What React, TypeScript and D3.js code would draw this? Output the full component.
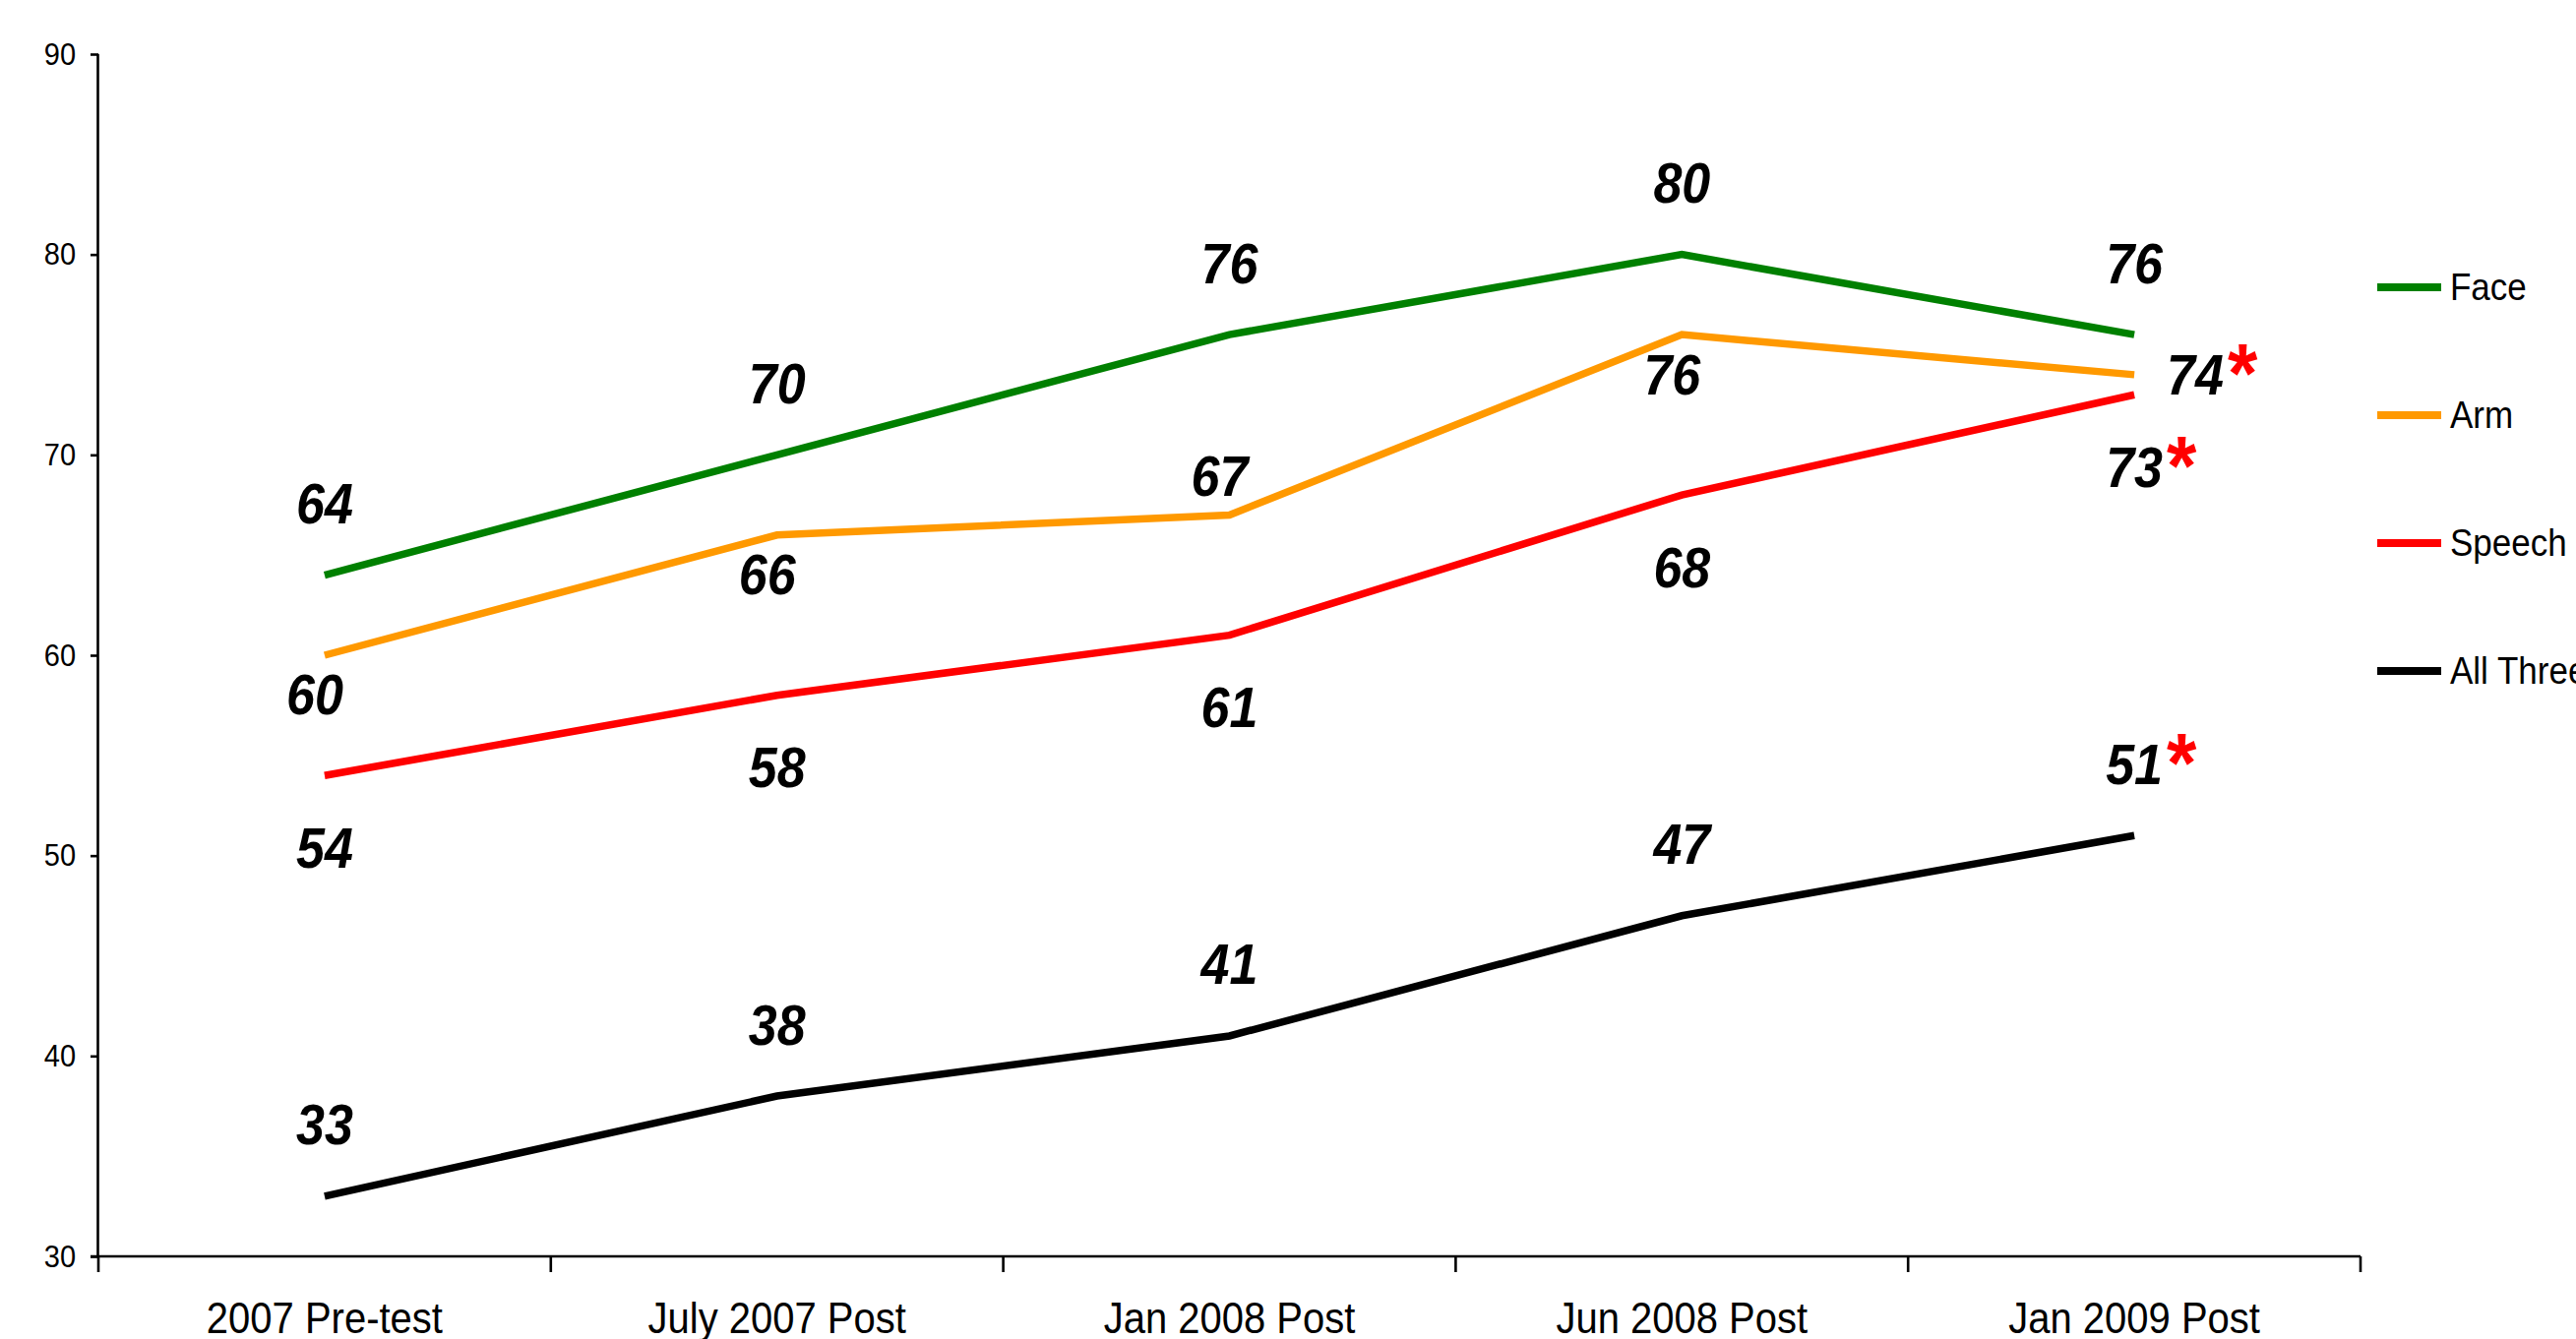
import { useEffect, useRef } from "react";
import * as d3 from "d3";

const categories = ["2007 Pre-test", "July 2007 Post", "Jan 2008 Post", "Jun 2008 Post", "Jan 2009 Post"];
const faceValues = [64, 70, 76, 80, 76];
const armValues = [60, 66, 67, 76, 74];
const speechValues = [54, 58, 61, 68, 73];
const allThreeValues = [33, 38, 41, 47, 51];
const yTicks = [30, 40, 50, 60, 70, 80, 90];

// where each data label sits relative to its point
const faceLabelPos = ["above", "above", "above", "above", "above"];
const armLabelPos = ["below", "below", "above", "below", "right"];
const speechLabelPos = ["below", "below", "below", "below", "below"];
const allThreeLabelPos = ["above", "above", "above", "above", "above"];

// red asterisk after the label
const faceStar = [false, false, false, false, false];
const armStar = [false, false, false, false, true];
const speechStar = [false, false, false, false, true];
const allThreeStar = [false, false, false, false, true];

const FONT = "'Liberation Sans', Arial, sans-serif";
const STRETCH = 1.1;

export default function App() {
  const svgRef = useRef<SVGSVGElement | null>(null);

  useEffect(() => {
    document.body.style.margin = "0";
    if (!svgRef.current) return;
    const W = 2618;
    const H = 1361;
    const svg = d3.select(svgRef.current);
    svg.selectAll("*").remove();

    const left = 100;
    const right = 2399;
    const top = 55;
    const bottom = 1277;

    const x = d3.scaleBand().domain(categories).range([left, right]).padding(0);
    const cx = (c: string) => (x(c) as number) + x.bandwidth() / 2;
    const y = d3.scaleLinear().domain([30, 90]).range([bottom, top]);

    const series = [
      { name: "Face", color: "#008000", values: faceValues, pos: faceLabelPos, star: faceStar, gap: 73, dx: 0 },
      { name: "Arm", color: "#FF9900", values: armValues, pos: armLabelPos, star: armStar, gap: 40, dx: -10 },
      { name: "Speech", color: "#FF0000", values: speechValues, pos: speechLabelPos, star: speechStar, gap: 73, dx: 0 },
      { name: "All Three", color: "#000000", values: allThreeValues, pos: allThreeLabelPos, star: allThreeStar, gap: 73, dx: 0 },
    ];

    // Y axis
    const yAxis = svg
      .append("g")
      .attr("transform", `translate(${left},0)`)
      .call(d3.axisLeft(y).tickValues(yTicks).tickSize(8).tickPadding(15).tickFormat(d3.format("d")));
    yAxis.select(".domain").attr("d", `M-0.5,${top}V${bottom}`).attr("stroke", "#000").attr("stroke-width", 2.6);
    yAxis.selectAll(".tick line").attr("stroke", "#000").attr("stroke-width", 2.6);
    yAxis
      .selectAll(".tick text")
      .attr("font-family", FONT)
      .attr("font-size", 29)
      .attr("fill", "#000")
      .attr("transform", `scale(1,${STRETCH})`);

    // X axis
    const xg = svg.append("g");
    xg.append("line")
      .attr("x1", left - 8)
      .attr("x2", right)
      .attr("y1", bottom)
      .attr("y2", bottom)
      .attr("stroke", "#000")
      .attr("stroke-width", 2.6);
    const bounds = [...categories.map((c) => x(c) as number), right];
    xg.selectAll("line.tk")
      .data(bounds)
      .join("line")
      .attr("class", "tk")
      .attr("x1", (d) => d)
      .attr("x2", (d) => d)
      .attr("y1", bottom)
      .attr("y2", bottom + 16)
      .attr("stroke", "#000")
      .attr("stroke-width", 2.6);
    xg.selectAll("text")
      .data(categories)
      .join("text")
      .attr("transform", (d) => `translate(${cx(d)},1355) scale(1,${STRETCH})`)
      .attr("text-anchor", "middle")
      .attr("font-family", FONT)
      .attr("font-size", 40)
      .attr("fill", "#000")
      .text((d) => d);

    // Lines
    const line = d3
      .line<number>()
      .x((_, i) => cx(categories[i]))
      .y((d) => y(d));
    series.forEach((s) => {
      svg
        .append("path")
        .datum(s.values)
        .attr("d", line)
        .attr("fill", "none")
        .attr("stroke", s.color)
        .attr("stroke-width", 7.5);
    });

    // Data labels
    const labelSize = 52;
    const capH = 0.716 * labelSize * STRETCH;
    series.forEach((s) => {
      s.values.forEach((v, i) => {
        const px = cx(categories[i]);
        const py = y(v);
        const p = s.pos[i];
        let tx = px + s.dx;
        let ty = py;
        let anchor = "middle";
        if (p === "above") ty = py - s.gap + capH / 2;
        else if (p === "below") ty = py + s.gap + capH / 2;
        else {
          tx = px + 33;
          ty = py + capH / 2;
          anchor = "start";
        }
        const t = svg
          .append("text")
          .attr("transform", `translate(${tx},${ty}) scale(1,${STRETCH})`)
          .attr("text-anchor", anchor)
          .attr("font-family", FONT)
          .attr("font-size", labelSize)
          .attr("font-weight", "bold")
          .attr("font-style", "italic")
          .attr("fill", "#000")
          .text(String(v));
        if (s.star[i]) {
          const w = (t.node() as SVGTextElement).getComputedTextLength();
          const endX = anchor === "middle" ? tx + w / 2 : tx + w;
          svg
            .append("text")
            .attr("transform", `translate(${endX + 4},${ty + 8}) scale(1,${STRETCH})`)
            .attr("font-family", FONT)
            .attr("font-size", 78)
            .attr("font-weight", "bold")
            .attr("fill", "#FF0000")
            .text("*");
        }
      });
    });

    // Legend
    const ly = d3.scaleLinear().domain([0, 3]).range([292, 682]);
    const lg = svg.append("g");
    series.forEach((s, i) => {
      lg.append("line")
        .attr("x1", 2416)
        .attr("x2", 2481)
        .attr("y1", ly(i))
        .attr("y2", ly(i))
        .attr("stroke", s.color)
        .attr("stroke-width", 8);
      lg.append("text")
        .attr("transform", `translate(2490,${ly(i) + 13}) scale(1,1.09)`)
        .attr("font-family", FONT)
        .attr("font-size", 35)
        .attr("fill", "#000")
        .text(s.name);
    });

    svg.attr("width", W).attr("height", H);
  }, []);

  return (
    <div style={{ position: "absolute", left: 0, top: 0 }}>
      <svg ref={svgRef} width={2618} height={1361} style={{ display: "block", background: "#fff" }} />
    </div>
  );
}
